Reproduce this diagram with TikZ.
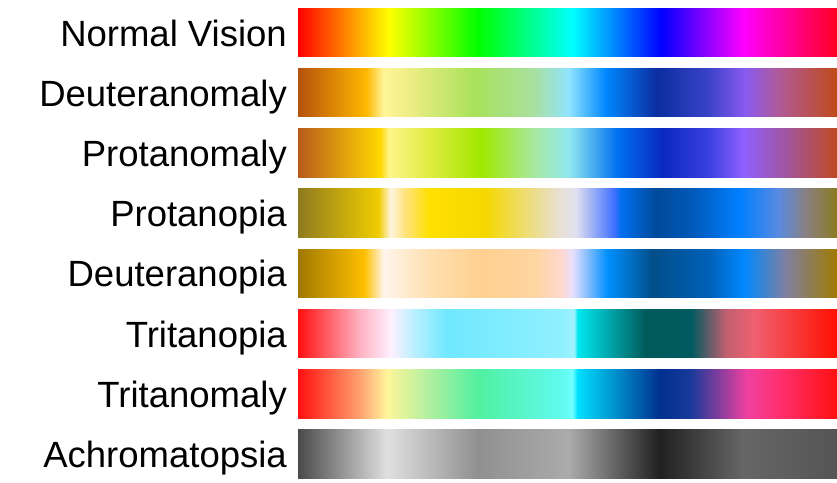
\documentclass[tikz,border=0pt]{standalone}
\usepackage{fontspec}
\setmainfont{Liberation Sans}
\newcommand{\hc}[2]{\definecolor{#1}{HTML}{#2}}
% Normal Vision
\hc{nva}{FF0000}\hc{nvb}{FFFF00}\hc{nvc}{00FF00}\hc{nvd}{00FFFF}\hc{nve}{0000FF}\hc{nvf}{FF00FF}\hc{nvg}{FF0022}
\pgfdeclarehorizontalshading{shnv}{100bp}{color(0bp)=(nva); color(25bp)=(nva); color(33.43bp)=(nvb); color(41.69bp)=(nvc); color(50.44bp)=(nvd); color(58.70bp)=(nve); color(66.32bp)=(nvf); color(75bp)=(nvg); color(100bp)=(nvg)}
% Deuteranomaly
\hc{daa}{B5520C}\hc{dab}{FFB800}\hc{dac}{FFF59A}\hc{dad}{F2EE88}\hc{dae}{A8E25A}\hc{daf}{A8E0A0}\hc{dag}{90E4FF}\hc{dah}{0088FF}\hc{dai}{0A2EA0}\hc{daj}{3A42C8}\hc{dak}{8A5AF0}\hc{dal}{B05A98}\hc{dam}{C04A18}
\pgfdeclarehorizontalshading{shda}{100bp}{color(0bp)=(daa); color(25bp)=(daa); color(31.32bp)=(dab); color(32.94bp)=(dac); color(34.88bp)=(dad); color(41.36bp)=(dae); color(46.87bp)=(daf); color(50.11bp)=(dag); color(53.52bp)=(dah); color(58.21bp)=(dai); color(63.08bp)=(daj); color(66.48bp)=(dak); color(69.56bp)=(dal); color(75bp)=(dam); color(100bp)=(dam)}
% Protanomaly
\hc{paa}{B85A1C}\hc{pab}{FFD800}\hc{pac}{FFF58A}\hc{pad}{E0EC40}\hc{pae}{A0E800}\hc{paf}{A8E8A0}\hc{pag}{90E8F0}\hc{pah}{0070F0}\hc{pai}{0A28C0}\hc{paj}{3A40E0}\hc{pak}{9060FF}\hc{pal}{A055A0}\hc{pam}{C04A20}
\pgfdeclarehorizontalshading{shpa}{100bp}{color(0bp)=(paa); color(25bp)=(paa); color(32.62bp)=(pab); color(33.43bp)=(pac); color(37.15bp)=(pad); color(42.01bp)=(pae); color(46.87bp)=(paf); color(50.11bp)=(pag); color(54.65bp)=(pah); color(58.86bp)=(pai); color(63.08bp)=(paj); color(66.32bp)=(pak); color(70.20bp)=(pal); color(75bp)=(pam); color(100bp)=(pam)}
% Protanopia
\hc{poa}{8F7B20}\hc{pob}{F0CC00}\hc{poc}{FFF5E0}\hc{pod}{FFE380}\hc{poe}{FFE000}\hc{pof}{F5D800}\hc{pog}{E8E0D0}\hc{poh}{E0E0F0}\hc{poi}{4070FF}\hc{poj}{0070F0}\hc{pok}{004A9A}\hc{pol}{0058B8}\hc{pom}{0080FF}\hc{pon}{5A8AE0}\hc{poo}{8A8080}\hc{pop}{8A7A20}
\pgfdeclarehorizontalshading{shpo}{100bp}{color(0bp)=(poa); color(25bp)=(poa); color(32.45bp)=(pob); color(33.59bp)=(poc); color(34.88bp)=(pod); color(37.15bp)=(poe); color(42.34bp)=(pof); color(49.14bp)=(pog); color(50.76bp)=(poh); color(54.33bp)=(poi); color(54.97bp)=(poj); color(58.21bp)=(pok); color(61.46bp)=(pol); color(65.99bp)=(pom); color(69.56bp)=(pon); color(72.15bp)=(poo); color(75bp)=(pop); color(100bp)=(pop)}
% Deuteranopia
\hc{dpa}{A07800}\hc{dpb}{FFC000}\hc{dpc}{FFF5EC}\hc{dpd}{FFE0B0}\hc{dpe}{FFD090}\hc{dpf}{FFD5A0}\hc{dpg}{FFD8D0}\hc{dph}{E8E0FF}\hc{dpi}{0090FF}\hc{dpj}{004E8A}\hc{dpk}{0060B8}\hc{dpl}{0088FF}\hc{dpm}{8080A0}\hc{dpn}{A07A00}
\pgfdeclarehorizontalshading{shdp}{100bp}{color(0bp)=(dpa); color(25bp)=(dpa); color(31.16bp)=(dpb); color(32.94bp)=(dpc); color(37.15bp)=(dpd); color(42.01bp)=(dpe); color(46.87bp)=(dpf); color(49.47bp)=(dpg); color(50.44bp)=(dph); color(53.68bp)=(dpi); color(57.89bp)=(dpj); color(63.08bp)=(dpk); color(66.32bp)=(dpl); color(70.20bp)=(dpm); color(75bp)=(dpn); color(100bp)=(dpn)}
% Tritanopia
\hc{tpa}{FF1010}\hc{tpb}{FFB0C0}\hc{tpc}{FFF0FF}\hc{tpd}{C0F0FF}\hc{tpe}{70E8FF}\hc{tpf}{90F0FF}\hc{tpg}{A0F2FF}\hc{tph}{00E8F0}\hc{tpi}{005A5A}\hc{tpj}{005A60}\hc{tpk}{C06070}\hc{tpl}{F06070}\hc{tpm}{FF1000}
\pgfdeclarehorizontalshading{shtp}{100bp}{color(0bp)=(tpa); color(25bp)=(tpa); color(30.67bp)=(tpb); color(33.59bp)=(tpc); color(35.53bp)=(tpd); color(38.77bp)=(tpe); color(49.47bp)=(tpf); color(50.60bp)=(tpg); color(50.92bp)=(tph); color(57.24bp)=(tpi); color(61.46bp)=(tpj); color(64.69bp)=(tpk); color(67.29bp)=(tpl); color(75bp)=(tpm); color(100bp)=(tpm)}
% Tritanomaly
\hc{taa}{FF1010}\hc{tab}{FFA070}\hc{tac}{FFF59A}\hc{tad}{B0F0A0}\hc{tae}{50F0A0}\hc{taf}{60FAF0}\hc{tag}{70FFFF}\hc{tah}{00E0FF}\hc{tai}{003090}\hc{taj}{1A3A9A}\hc{tak}{F040A0}\hc{tal}{FF3070}\hc{tam}{FF1010}
\pgfdeclarehorizontalshading{shta}{100bp}{color(0bp)=(taa); color(25bp)=(taa); color(30.67bp)=(tab); color(33.26bp)=(tac); color(37.15bp)=(tad); color(41.69bp)=(tae); color(49.47bp)=(taf); color(50.44bp)=(tag); color(50.92bp)=(tah); color(58.54bp)=(tai); color(61.46bp)=(taj); color(66.64bp)=(tak); color(69.56bp)=(tal); color(75bp)=(tam); color(100bp)=(tam)}
% Achromatopsia
\hc{aca}{4A4A4A}\hc{acb}{E0E0E0}\hc{acc}{909090}\hc{acd}{ABABAB}\hc{ace}{202020}\hc{acf}{666666}\hc{acg}{555555}
\pgfdeclarehorizontalshading{shac}{100bp}{color(0bp)=(aca); color(25bp)=(aca); color(33.26bp)=(acb); color(41.69bp)=(acc); color(50.11bp)=(acd); color(58.54bp)=(ace); color(66.32bp)=(acf); color(75bp)=(acg); color(100bp)=(acg)}
\begin{document}
\begin{tikzpicture}[x=1pt,y=1pt,
  bar/.style={shade,shading=#1,draw=none,inner sep=0pt,outer sep=0pt,
    minimum width=539pt,minimum height=48.5pt,anchor=north west},
  lbl/.style={anchor=base east,inner sep=0pt,font=\fontsize{36.5}{42}\selectfont}]
\fill[white] (0,0) rectangle (837,482);
\useasboundingbox (0,0) rectangle (837,482);
\foreach \sh/\txt [count=\i from 0] in {shnv/Normal Vision,shda/Deuteranomaly,shpa/Protanomaly,shpo/Protanopia,shdp/Deuteranopia,shtp/Tritanopia,shta/Tritanomaly,shac/Achromatopsia}{
  \node[bar=\sh] (b\i) at (298,{482-8.3-60.2*\i}) {};
  \node[lbl] (l\i) at ([xshift=-11pt,yshift=-13.5pt]b\i.west) {\txt};
}
\end{tikzpicture}
\end{document}
